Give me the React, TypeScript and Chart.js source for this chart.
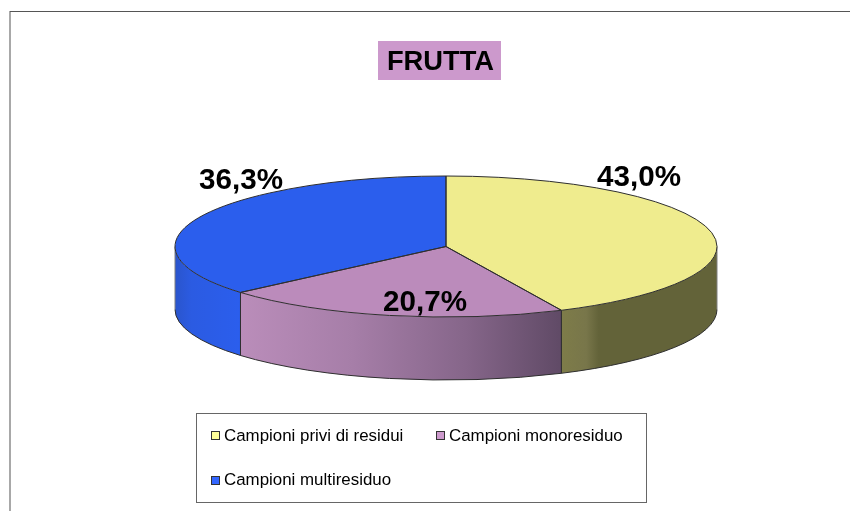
import React, { useEffect, useRef } from "react";
import { Chart, registerables } from "chart.js";

Chart.register(...registerables);

const chartTitle = "FRUTTA";
const categories = ["Campioni privi di residui", "Campioni monoresiduo", "Campioni multiresiduo"];
const values = [43.0, 20.7, 36.3];
const topColours = ["#EFEC8E", "#BB8BBB", "#2B5EED"];
const legendColours = ["#FFFF99", "#CC99CC", "#3366FF"];
const wallStops: [number, string][][] = [
  [[0, "#7E7C49"], [0.16, "#78764A"], [0.24, "#636339"], [1, "#636339"]],
  [[0, "#BA8DBA"], [0.35, "#A67EA8"], [0.7, "#86668A"], [1, "#604A66"]],
  [[0, "#2A55CC"], [0.25, "#2B5BE2"], [1, "#2B5EED"]],
];
const labelAnchors = [
  { x: 639, y: 186 },
  { x: 425, y: 311 },
  { x: 241, y: 189 },
];
const legendItems = [
  { swatchX: 211, swatchY: 431, textX: 224, baseline: 441 },
  { swatchX: 436, swatchY: 431, textX: 449, baseline: 441 },
  { swatchX: 211, swatchY: 476, textX: 224, baseline: 485 },
];

const SQUASH = 70.5 / 271;
const DEPTH = 63;
const EDGE = "#2F2F2F";

const pie3d = {
  id: "pie3d",
  beforeDraw(chart: any) {
    const { ctx, width, height } = chart;
    ctx.save();
    ctx.fillStyle = "#FFFFFF";
    ctx.fillRect(0, 0, width, height);
    ctx.fillStyle = "#A8A8A8";
    ctx.fillRect(9, 11, 2, height - 11);
    ctx.fillStyle = "#555555";
    ctx.fillRect(10, 11, width - 10, 1);
    ctx.restore();
  },
  beforeDatasetDraw(chart: any, args: any) {
    const { ctx } = chart;
    const arcs = args.meta.data;
    const cx = arcs[0].x;
    const cy = arcs[0].y;
    const rx = arcs[0].outerRadius;
    const ry = rx * SQUASH;
    // Walls, for the part of each slice that faces the viewer
    arcs.forEach((arc: any, i: number) => {
      const start = Math.max(arc.startAngle, 0);
      const end = Math.min(arc.endAngle, Math.PI);
      if (end <= start) return;
      const x0 = cx + rx * Math.cos(start);
      const x1 = cx + rx * Math.cos(end);
      const grad = ctx.createLinearGradient(Math.min(x0, x1), 0, Math.max(x0, x1), 0);
      wallStops[i].forEach(([p, c]) => grad.addColorStop(p, c));
      ctx.save();
      ctx.beginPath();
      ctx.ellipse(cx, cy, rx, ry, 0, start, end);
      ctx.ellipse(cx, cy + DEPTH, rx, ry, 0, end, start, true);
      ctx.closePath();
      ctx.fillStyle = grad;
      ctx.fill();
      ctx.lineWidth = 1;
      // Bottom rim
      ctx.beginPath();
      ctx.ellipse(cx, cy + DEPTH, rx, ry, 0, start, end);
      ctx.strokeStyle = EDGE;
      ctx.stroke();
      // Vertical edges: dark at slice boundaries, soft on the silhouette
      [start, end].forEach((a) => {
        const silhouette = a === 0 || a === Math.PI;
        const x = cx + rx * Math.cos(a);
        const y = cy + ry * Math.sin(a);
        ctx.beginPath();
        ctx.moveTo(x, y);
        ctx.lineTo(x, y + DEPTH);
        ctx.strokeStyle = silhouette ? "#808080" : EDGE;
        ctx.stroke();
      });
      ctx.restore();
    });
    // Top face: the library's arcs, squashed into an ellipse
    ctx.save();
    ctx.translate(cx, cy);
    ctx.scale(1, SQUASH);
    ctx.translate(-cx, -cy);
  },
  afterDatasetDraw(chart: any, args: any) {
    const { ctx } = chart;
    ctx.restore();
    const arcs = args.meta.data;
    arcs.forEach((arc: any) => {
      const rx = arc.outerRadius;
      const ry = rx * SQUASH;
      ctx.save();
      ctx.beginPath();
      ctx.moveTo(arc.x, arc.y);
      ctx.ellipse(arc.x, arc.y, rx, ry, 0, arc.startAngle, arc.endAngle);
      ctx.closePath();
      ctx.strokeStyle = EDGE;
      ctx.lineWidth = 1;
      ctx.stroke();
      ctx.restore();
    });
  },
  afterDraw(chart: any) {
    const { ctx } = chart;
    ctx.save();
    // Title box
    ctx.fillStyle = "#CC99CC";
    ctx.fillRect(378, 41, 123, 39);
    ctx.fillStyle = "#000000";
    ctx.font = 'bold 27.3px "Liberation Sans"';
    ctx.textAlign = "center";
    ctx.textBaseline = "alphabetic";
    ctx.fillText(chartTitle, 440.5, 70);
    // Value labels
    ctx.font = 'bold 29.6px "Liberation Sans"';
    values.forEach((v, i) => {
      ctx.fillText(v.toFixed(1).replace(".", ",") + "%", labelAnchors[i].x, labelAnchors[i].y);
    });
    // Legend
    ctx.strokeStyle = "#666666";
    ctx.lineWidth = 1;
    ctx.strokeRect(196.5, 413.5, 450, 89);
    ctx.textAlign = "left";
    ctx.font = '16.9px "Liberation Sans"';
    categories.forEach((name, i) => {
      const it = legendItems[i];
      ctx.fillStyle = legendColours[i];
      ctx.fillRect(it.swatchX, it.swatchY, 9, 9);
      ctx.strokeStyle = "#333333";
      ctx.strokeRect(it.swatchX + 0.5, it.swatchY + 0.5, 8, 8);
      ctx.fillStyle = "#000000";
      ctx.fillText(name, it.textX, it.baseline);
    });
    ctx.restore();
  },
};

export default function App() {
  const ref = useRef<HTMLCanvasElement>(null);
  useEffect(() => {
    const chart = new Chart(ref.current as HTMLCanvasElement, {
      type: "pie",
      data: {
        labels: categories,
        datasets: [
          {
            data: values,
            backgroundColor: topColours,
            borderWidth: 0,
            radius: 271,
            clip: false,
          } as any,
        ],
      },
      options: {
        responsive: false,
        animation: false,
        layout: { padding: { left: 42, right: 0, top: 0, bottom: 18 } },
        plugins: { legend: { display: false }, title: { display: false }, tooltip: { enabled: false } },
        events: [],
      },
      plugins: [pie3d],
    } as any);
    return () => chart.destroy();
  }, []);
  return (
    <canvas
      ref={ref}
      width={850}
      height={511}
      style={{ position: "absolute", left: 0, top: 0, display: "block", width: 850, height: 511 }}
    />
  );
}
